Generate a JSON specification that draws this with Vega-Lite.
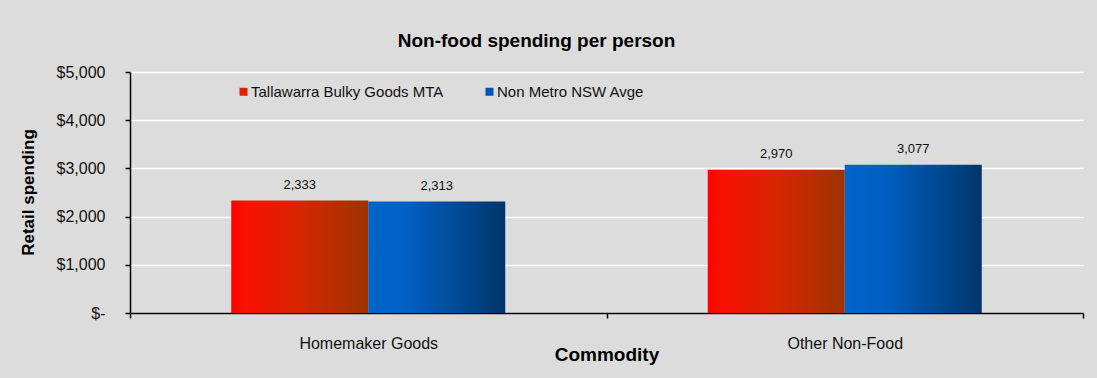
{
  "$schema": "https://vega.github.io/schema/vega-lite/v6.json",
  "autosize": "none",
  "width": 953,
  "height": 241,
  "padding": {"left": 130, "top": 72, "right": 14, "bottom": 65},
  "background": "#dcdcdc",
  "config": {
    "font": "Liberation Sans",
    "view": {"stroke": null},
    "axis": {"labelColor": "#111111", "titleColor": "#000000"}
  },
  "title": {
    "text": "Non-food spending per person",
    "fontSize": 19,
    "fontWeight": "bold",
    "color": "#000000",
    "anchor": "middle",
    "baseline": "alphabetic",
    "offset": 0,
    "dy": 2,
    "dx": -70
  },
  "data": {
    "values": [
      {"commodity": "Homemaker Goods", "series": "Tallawarra Bulky Goods MTA", "value": 2333},
      {"commodity": "Homemaker Goods", "series": "Non Metro NSW Avge", "value": 2313},
      {"commodity": "Other Non-Food", "series": "Tallawarra Bulky Goods MTA", "value": 2970},
      {"commodity": "Other Non-Food", "series": "Non Metro NSW Avge", "value": 3077}
    ]
  },
  "encoding": {
    "x": {
      "field": "commodity",
      "type": "nominal",
      "sort": ["Homemaker Goods", "Other Non-Food"],
      "scale": {"paddingInner": 0, "paddingOuter": 0},
      "axis": {
        "title": "Commodity",
        "titleFontSize": 19,
        "titleFontWeight": "bold",
        "titleBaseline": "alphabetic",
        "titleY": 47,
        "labelAngle": 0,
        "labelFontSize": 16,
        "labelPadding": 17,
        "tickBand": "extent",
        "tickSize": 5,
        "tickColor": "#000000",
        "domainColor": "#000000",
        "domainWidth": 1.5,
        "tickWidth": 1.5
      }
    },
    "xOffset": {
      "field": "series",
      "type": "nominal",
      "scale": {"domain": ["Tallawarra Bulky Goods MTA", "Non Metro NSW Avge"], "paddingInner": 0, "paddingOuter": 0.739}
    },
    "y": {
      "field": "value",
      "type": "quantitative",
      "scale": {"domain": [0, 5000], "nice": false},
      "axis": {
        "title": "Retail spending",
        "titleFontSize": 17,
        "titleFontWeight": "bold",
        "titleAngle": 270,
        "titleBaseline": "middle",
        "titleX": -102,
        "titleY": 120,
        "values": [0, 1000, 2000, 3000, 4000, 5000],
        "labelExpr": "datum.value === 0 ? '$-' : '$' + format(datum.value, ',')",
        "labelFontSize": 16,
        "labelPadding": 20,
        "tickSize": 5,
        "tickColor": "#000000",
        "tickWidth": 1.5,
        "domainColor": "#000000",
        "domainWidth": 1.5,
        "gridColor": "#ffffff",
        "gridWidth": 1.5,
        "gridOpacity": 1
      }
    }
  },
  "layer": [
    {
      "mark": {"type": "bar"},
      "encoding": {
        "fill": {
          "condition": {
            "test": "datum.series === 'Tallawarra Bulky Goods MTA'",
            "value": {
              "gradient": "linear", "x1": 0, "y1": 0, "x2": 1, "y2": 0,
              "stops": [
                {"offset": 0, "color": "#ff0000"},
                {"offset": 0.08, "color": "#fb1000"},
                {"offset": 0.5, "color": "#d62600"},
                {"offset": 1, "color": "#9e3300"}
              ]
            }
          },
          "value": {
            "gradient": "linear", "x1": 0, "y1": 0, "x2": 1, "y2": 0,
            "stops": [
              {"offset": 0, "color": "#0064ca"},
              {"offset": 0.3, "color": "#005fc2"},
              {"offset": 1, "color": "#02356a"}
            ]
          }
        }
      }
    },
    {
      "mark": {"type": "text", "baseline": "bottom", "dy": -9, "fontSize": 13, "color": "#111111"},
      "encoding": {
        "text": {"field": "value", "type": "quantitative", "format": ","}
      }
    },
    {
      "mark": {"type": "square", "opacity": 0},
      "encoding": {
        "color": {
          "field": "series",
          "type": "nominal",
          "scale": {"domain": ["Tallawarra Bulky Goods MTA", "Non Metro NSW Avge"], "range": ["#dc2400", "#0055b0"]},
          "legend": {
            "title": null,
            "orient": "none",
            "legendX": 106,
            "legendY": 12,
            "direction": "horizontal",
            "symbolType": "square",
            "symbolSize": 64,
            "symbolOpacity": 1,
            "symbolStrokeWidth": 0,
            "labelFontSize": 15,
            "labelColor": "#111111",
            "labelLimit": 300,
            "labelOffset": 0,
            "columnPadding": 38,
            "padding": 0
          }
        }
      }
    }
  ]
}
